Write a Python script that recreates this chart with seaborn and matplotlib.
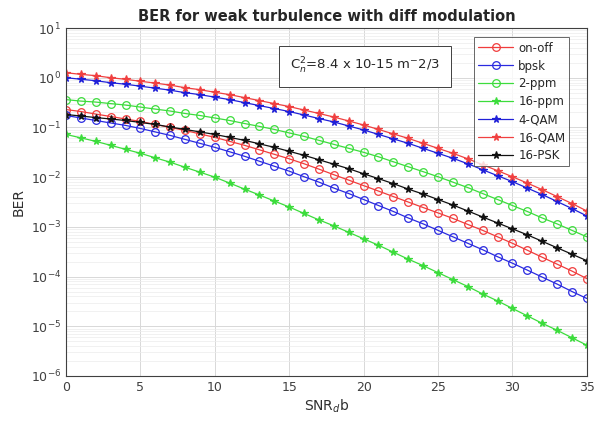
import numpy as np
import matplotlib
matplotlib.use('Agg')
import matplotlib.pyplot as plt
import seaborn as sns

# SNR axis (dB) and BER values
snr_db = list(range(36))

ber_on_off = [0.229, 0.209, 0.186, 0.166, 0.148, 0.132, 0.115, 0.100, 0.0871, 0.0741,
              0.0631, 0.0525, 0.0437, 0.0355, 0.0288, 0.0234, 0.0186, 0.0145, 0.0112, 0.00871,
              0.00676, 0.00525, 0.00407, 0.00316, 0.00245, 0.00191, 0.00148, 0.00112, 0.000851, 0.000631,
              0.000468, 0.000339, 0.000245, 0.000178, 0.000129, 0.0000912]
ber_bpsk = [0.174, 0.155, 0.138, 0.123, 0.110, 0.0955, 0.0813, 0.0692, 0.0575, 0.0479,
            0.0398, 0.0324, 0.0263, 0.0209, 0.0166, 0.0132, 0.0102, 0.00794, 0.00603, 0.00468,
            0.00355, 0.00269, 0.00204, 0.00151, 0.00115, 0.000851, 0.000631, 0.000468, 0.000347, 0.000251,
            0.000186, 0.000135, 0.0000977, 0.0000708, 0.0000501, 0.0000363]
ber_2ppm = [0.363, 0.339, 0.324, 0.302, 0.282, 0.257, 0.234, 0.214, 0.191, 0.174,
            0.155, 0.138, 0.120, 0.105, 0.0912, 0.0776, 0.0661, 0.0550, 0.0457, 0.0380,
            0.0316, 0.0257, 0.0204, 0.0162, 0.0129, 0.0102, 0.00794, 0.00617, 0.00468, 0.00355,
            0.00269, 0.00204, 0.00151, 0.00115, 0.000851, 0.000631]
ber_16ppm = [0.0724, 0.0617, 0.0525, 0.0437, 0.0363, 0.0302, 0.0245, 0.0200, 0.0158, 0.0126,
             0.0100, 0.00759, 0.00575, 0.00437, 0.00331, 0.00251, 0.00186, 0.00138, 0.00105, 0.000776,
             0.000575, 0.000427, 0.000309, 0.000224, 0.000166, 0.000120, 0.0000871, 0.0000631, 0.0000447, 0.0000324,
             0.0000229, 0.0000162, 0.0000115, 0.00000832, 0.00000589, 0.00000417]
ber_4qam = [1.00, 0.933, 0.871, 0.794, 0.741, 0.676, 0.617, 0.562, 0.501, 0.457,
            0.407, 0.363, 0.316, 0.275, 0.240, 0.209, 0.178, 0.151, 0.129, 0.107,
            0.0891, 0.0724, 0.0589, 0.0479, 0.0380, 0.0302, 0.0240, 0.0186, 0.0141, 0.0107,
            0.00813, 0.00603, 0.00447, 0.00324, 0.00234, 0.00166]
ber_16qam = [1.26, 1.17, 1.10, 1.00, 0.93, 0.85, 0.78, 0.71, 0.63, 0.575,
             0.51, 0.457, 0.398, 0.347, 0.302, 0.263, 0.224, 0.191, 0.162, 0.135,
             0.112, 0.0912, 0.0741, 0.0603, 0.0479, 0.0380, 0.0302, 0.0234, 0.0178, 0.0135,
             0.0102, 0.00759, 0.00562, 0.00407, 0.00295, 0.00209]
ber_16psk = [0.182, 0.170, 0.158, 0.148, 0.138, 0.126, 0.115, 0.102, 0.0912, 0.0813,
             0.0724, 0.0631, 0.0550, 0.0468, 0.0398, 0.0331, 0.0275, 0.0224, 0.0182, 0.0148,
             0.0117, 0.00933, 0.00741, 0.00575, 0.00457, 0.00355, 0.00275, 0.00209, 0.00158, 0.00120,
             0.000912, 0.000692, 0.000513, 0.000380, 0.000282, 0.000209]

x_ticks = [0, 5, 10, 15, 20, 25, 30, 35]

sns.set_style("white")
plt.rcParams['font.family'] = ['DejaVu Sans']

fig = plt.figure(figsize=(6, 4.28), dpi=100)
ax = fig.add_axes([0.11, 0.1215, 0.868, 0.813])

series = [
    ('on-off', ber_on_off, '#f03c3c', 'o', 'none'),
    ('bpsk', ber_bpsk, '#2a2ae0', 'o', 'none'),
    ('2-ppm', ber_2ppm, '#3cdc3c', 'o', 'none'),
    ('16-ppm', ber_16ppm, '#3cdc3c', '*', '#3cdc3c'),
    ('4-QAM', ber_4qam, '#2020d8', '*', '#2020d8'),
    ('16-QAM', ber_16qam, '#f04040', '*', '#f04040'),
    ('16-PSK', ber_16psk, '#111111', '*', '#111111'),
]

for name, vals, col, mk, mfc in series:
    sns.lineplot(x=snr_db, y=vals, ax=ax, color=col, marker=mk, markersize=5.5,
                 markerfacecolor=mfc, markeredgecolor=col, markeredgewidth=0.9,
                 linewidth=0.9, label=name)

ax.set_yscale('log')
ax.set_xlim(0, 35)
ax.set_ylim(1e-6, 1e1)
ax.set_xticks(x_ticks)
ax.grid(True, which='major', color='#d8d8d8', linewidth=0.7)
ax.grid(True, which='minor', color='#ececec', linewidth=0.5)
ax.tick_params(axis='both', which='both', direction='in', labelsize=9,
               labelcolor='#404040', color='#404040')
ax.tick_params(axis='both', which='major', length=4)
for sp in ax.spines.values():
    sp.set_color('#404040')
    sp.set_linewidth(0.8)

ax.set_title('BER for weak turbulence with diff modulation', fontsize=10.5,
             fontweight='bold', pad=5)
ax.set_xlabel('SNR$_d$b', fontsize=10, color='#303030', labelpad=3)
ax.set_ylabel('BER', fontsize=10, color='#303030')

leg = ax.legend(loc='upper right', bbox_to_anchor=(0.978, 0.99), fontsize=8.5,
                frameon=True, fancybox=False, edgecolor='#404040',
                handlelength=3.0, borderpad=0.35, labelspacing=0.42, handletextpad=0.4)
leg.get_frame().set_linewidth(0.7)

ax.text(0.43, 0.89, 'C$_n^2$=8.4 x 10-15 m$^{-}$2/3', transform=ax.transAxes,
        fontsize=9.5, va='center', ha='left',
        bbox=dict(boxstyle='square,pad=0.8', facecolor='white', edgecolor='#404040', linewidth=0.7))

fig.savefig('out.png', dpi=100)
